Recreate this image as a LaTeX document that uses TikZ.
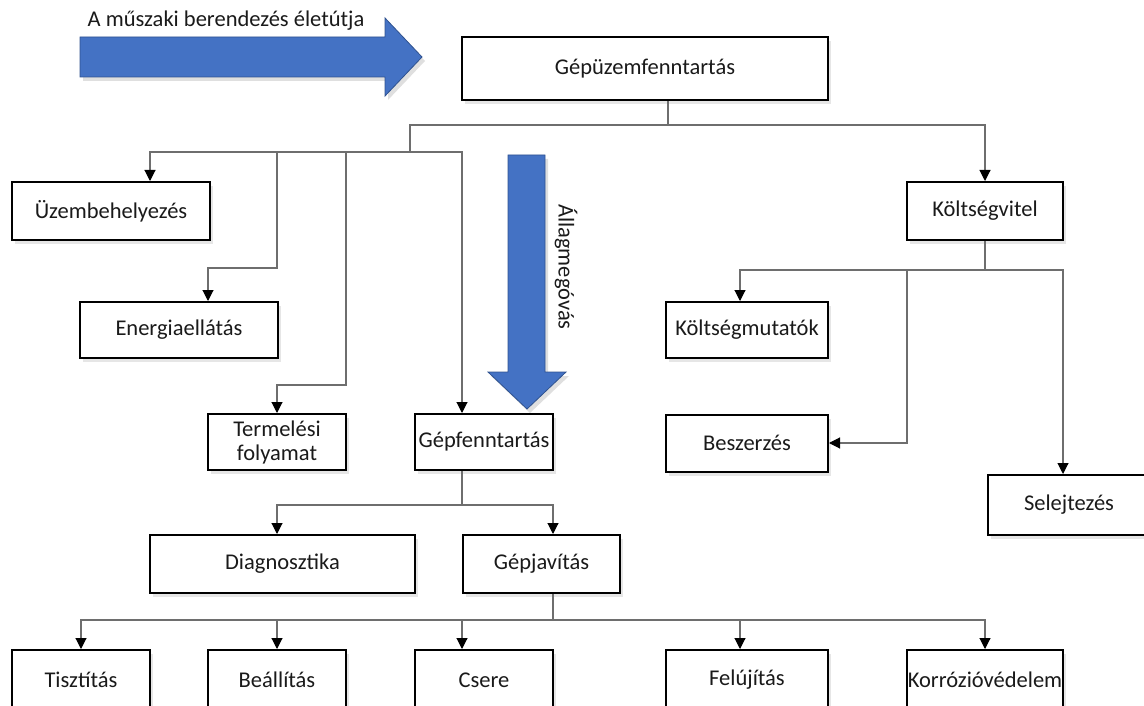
\documentclass[tikz,border=0pt]{standalone}
\usepackage{fontspec}
\setmainfont{Carlito}
\usetikzlibrary{positioning}
\usetikzlibrary{arrows.meta}
\usetikzlibrary{shadows}
\definecolor{blockblue}{HTML}{4472C4}
\definecolor{blockedge}{HTML}{2F528F}
\definecolor{linegray}{HTML}{6E6E6E}
\definecolor{textgray}{HTML}{1A1A1A}

\begin{document}
\begin{tikzpicture}[x=1pt,y=-1pt,
    box/.style={draw=black, line width=2pt, fill=white, text=textgray,
      inner sep=0pt, align=center,
      drop shadow={opacity=0.2, shadow xshift=3pt, shadow yshift=-4pt},
      font=\fontsize{22.5}{24}\selectfont},
    link/.style={draw=linegray, line width=1.1pt},
    conn/.style={link, -{Triangle[length=11pt,width=11pt,color=black]}},
    block/.style={fill=blockblue, draw=blockedge, line width=0.8pt,
      drop shadow={opacity=0.25, shadow xshift=3pt, shadow yshift=-4pt}},
    lbl/.style={text=textgray, font=\fontsize{22.5}{24}\selectfont}]
    \clip (0,0) rectangle (1144,706);

    % Define the boxes
    \node[box, minimum width=366pt, minimum height=63pt] (gepuzem) at (645,68.5) {Gépüzemfenntartás};
    \node[box, minimum width=198pt, minimum height=58pt] (uzem) at (111,211) {Üzembehelyezés};
    \node[box, minimum width=198pt, minimum height=56pt] (energia) at (179,330) {Energiaellátás};
    \node[box, minimum width=138pt, minimum height=56pt] (termeles) at (277,442) {Termelési\\folyamat};
    \node[box, minimum width=138pt, minimum height=56pt] (gepfenn) at (484,442) {Gépfenntartás};
    \node[box, minimum width=156pt, minimum height=58pt] (koltseg) at (985,211) {Költségvitel};
    \node[box, minimum width=162pt, minimum height=56pt] (mutatok) at (747,330) {Költségmutatók};
    \node[box, minimum width=162pt, minimum height=57pt] (beszerzes) at (747,443) {Beszerzés};
    \node[box, minimum width=162pt, minimum height=60pt] (selejt) at (1069,505) {Selejtezés};
    \node[box, minimum width=265pt, minimum height=58pt] (diag) at (282.5,564) {Diagnosztika};
    \node[box, minimum width=157pt, minimum height=58pt] (gepjav) at (541.5,564) {Gépjavítás};
    \node[box, minimum width=138pt, minimum height=60pt] (tiszt) at (81,680) {Tisztítás};
    \node[box, minimum width=138pt, minimum height=60pt] (beall) at (277,680) {Beállítás};
    \node[box, minimum width=138pt, minimum height=60pt] (csere) at (484,680) {Csere};
    \node[box, minimum width=162pt, minimum height=60pt] (felujit) at (747,680) {Felújítás};
    \node[box, minimum width=156pt, minimum height=60pt] (korr) at (985,680) {Korrózióvédelem};

    % Define the junctions
    \coordinate (jroot) at (668,125);
    \coordinate (jleft) at (410,152);
    \coordinate (ebend) at (277,268);
    \coordinate (tbend) at (346,385);
    \coordinate (kj) at (985,270);
    \coordinate (kb) at (907,443);
    \coordinate (gj) at (462,505);
    \coordinate (rj) at (553,620);

    % Draw the block arrows
    \path[block] (80,37) -- (385,37) -- (385,18) -- (422,57) -- (385,96) -- (385,77) -- (80,77) -- cycle;
    \path[block] (508,155) -- (545,155) -- (545,372) -- (566,372) -- (527,409) -- (488,372) -- (508,372) -- cycle;
    \node[lbl] (life) at (226,21) {A műszaki berendezés életútja};
    \node[lbl, rotate=-90] (allag) at (566,267) {Állagmegóvás};

    % Draw the lines
    \draw[link] (gepuzem.south -| jroot) -- (jroot) -| (jleft);
    \draw[conn] (jroot) -| (koltseg.north);
    \draw[conn] (jleft) -| ([xshift=39pt]uzem.north);
    \draw[conn] (jleft) -| (ebend) -| ([xshift=29pt]energia.north);
    \draw[conn] (jleft) -| (tbend) -| (termeles.north);
    \draw[conn] (jleft) -| ([xshift=-22pt]gepfenn.north);

    \draw[link] (koltseg.south) -- (kj);
    \draw[conn] (kj) -| ([xshift=-7pt]mutatok.north);
    \draw[conn] (kj) -| (kb) -- (beszerzes.east);
    \draw[conn] (kj) -| ([xshift=-6pt]selejt.north);

    \draw[link] ([xshift=-22pt]gepfenn.south) -- (gj);
    \draw[conn] (gj) -| ([xshift=-5.5pt]diag.north);
    \draw[conn] (gj) -| ([xshift=11.5pt]gepjav.north);

    \draw[link] ([xshift=11.5pt]gepjav.south) -- (rj);
    \foreach \kid/\dx in {tiszt/0, beall/0, csere/-22, felujit/-7, korr/0}
      \draw[conn] (rj) -| ([xshift=\dx pt]\kid.north);
\end{tikzpicture}
\end{document}
